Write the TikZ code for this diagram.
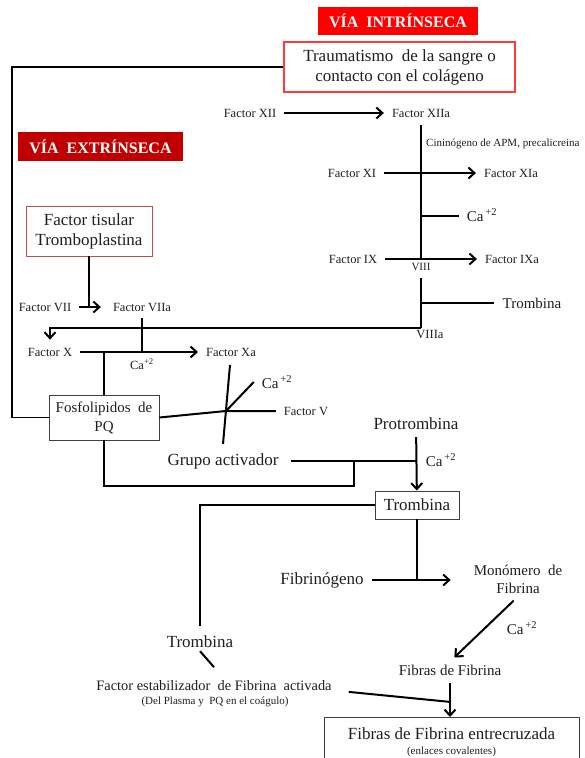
\documentclass[tikz,border=0pt]{standalone}
\usepackage{fontspec}
\setmainfont{Liberation Serif}
\usetikzlibrary{arrows.meta}

\definecolor{intrred}{HTML}{FF0000}
\definecolor{extrred}{HTML}{C00000}
\definecolor{traumared}{HTML}{FF3B3B}
\definecolor{tisred}{HTML}{C0504D}
\definecolor{boxgray}{HTML}{404040}
\definecolor{txtgray}{HTML}{1E1E1E}

\newcommand\fbig{\fontsize{17}{20}\selectfont}
\newcommand\fmid{\fontsize{15}{19}\selectfont}
\newcommand\fsml{\fontsize{12.5}{14}\selectfont}
\newcommand\ftny{\fontsize{11}{13}\selectfont}
\newcommand\fhead{\fontsize{16}{19}\selectfont}
\newcommand\caion{Ca\textsuperscript{\,+2}}

\tikzset{
  lbl/.style={inner xsep=8pt, inner ysep=3pt, text=txtgray, font=\fsml},
  box/.style={draw=boxgray, line width=0.9pt, align=center, text=txtgray, font=\fbig, inner sep=0pt},
  head/.style={fill=#1, text=white, font=\fhead\bfseries, inner sep=0pt},
  conn/.style={line width=2pt},
  arr/.style={conn, -{Straight Barb[length=6pt,width=11pt]}},
}

\begin{document}
\begin{tikzpicture}[x=1pt,y=-1pt]
    \useasboundingbox (0,0) rectangle (585,758);

    %Headers and starting boxes
    \node[head=intrred, minimum width=160pt, minimum height=28pt] (intr) at (398,21) {VÍA\ \ INTRÍNSECA};
    \node[box, draw=traumared, line width=1.2pt, minimum width=231pt, minimum height=50pt] (trauma) at (399.5,67) {Traumatismo\ \ de la sangre o\\contacto con el colágeno};
    \node[head=extrred, minimum width=165pt, minimum height=29pt] (extr) at (100.5,146.5) {VÍA\ \ EXTRÍNSECA};
    \node[box, draw=tisred, minimum width=126pt, minimum height=50pt] (tisular) at (89,231) {Factor tisular\\Tromboplastina};

    %Intrinsic pathway
    \node[lbl] (fxii) at (250,113) {Factor XII};
    \node[lbl] (fxiia) at (421,113) {Factor XIIa};
    \node[lbl, font=\ftny, anchor=west, inner xsep=0pt] (cinin) at (426,144) {Cininógeno de APM, precalicreina};
    \node[lbl] (fxi) at (352,173) {Factor XI};
    \node[lbl] (fxia) at (511,173) {Factor XIa};
    \node[lbl, font=\fmid] (caA) at (482,215) {\caion};
    \node[lbl] (fix) at (353,259) {Factor IX};
    \node[lbl] (fixa) at (512,259) {Factor IXa};
    \node[lbl, font=\ftny, inner sep=2pt] (viii) at (421,267) {VIII};
    \node[lbl, font=\fmid] (trombA) at (532,303) {Trombina};
    \node[lbl, inner sep=1pt] (viiia) at (430,334) {VIIIa};

    \coordinate (jCa) at (421,216);
    \coordinate (jIX) at (421,259);
    \coordinate (jTr) at (421,303);
    \coordinate (jX) at (421,328);

    \draw[arr] (fxii) -- (fxiia);
    \draw[arr] (fxi) -- (fxia);
    \draw[arr] (fix) -- (fixa);
    \draw[conn, shorten <=5pt] (fxiia) -- (jIX);
    \draw[conn] (jCa) -- (jCa -| caA.west);
    \draw[conn, shorten <=5pt] (viii) -- (jX);
    \draw[conn] (jTr) -- (jTr -| trombA.west);

    %Extrinsic pathway
    \node[lbl] (fvii) at (45,307) {Factor VII};
    \node[lbl] (fviia) at (142,307) {Factor VIIa};
    \node[lbl] (fx) at (50,352) {Factor X};
    \node[lbl] (fxa) at (231,352) {Factor Xa};
    \node[lbl, inner sep=1pt] (caB) at (142,364) {Ca\textsuperscript{+2}};

    \draw[conn] (tisular) -- (tisular |- fvii);
    \draw[arr, shorten >=4pt] (fvii) -- (fviia);
    \draw[conn, shorten <=4pt] (fviia) -- (fviia |- fx);
    \draw[arr] (fx) -- (fxa);
    \draw[arr, shorten >=5pt] (jX) -| (fx);

    %Fosfolipidos, group activator
    \node[box, font=\fmid, minimum width=110pt, minimum height=45pt] (fosfo) at (104,417.5) {Fosfolipidos\ \ de\\PQ};
    \coordinate (lft) at (12,67);
    \draw[line width=1.2pt] (trauma.west) -- (lft) |- (fosfo.west);
    \draw[conn] (fosfo.north) -- (fosfo.north |- fx);

    \node[lbl] (fv) at (306,411) {Factor V};
    \node[lbl, font=\fmid] (caC) at (277,382) {\caion};
    \coordinate (cx) at (226,411);
    \coordinate (xtop) at (230,365);
    \coordinate (xbot) at (223,444);
    \draw[conn] (fosfo.east) -- (cx) -- (fv);
    \draw[conn] (xtop) -- (xbot);
    \draw[conn] (cx) -- (caC.west);

    \node[lbl, font=\fbig, inner xsep=12pt] (grupo) at (223,461) {Grupo activador};
    \node[lbl, font=\fbig] (protr) at (416,424) {Protrombina};
    \node[lbl, font=\fmid] (caD) at (441,460) {\caion};
    \node[box, minimum width=84pt, minimum height=28pt] (trombbox) at (417,505) {Trombina};
    \coordinate (jgb) at (354,486);

    \draw[conn] (grupo) -- (grupo -| protr);
    \draw[arr, shorten <=4pt] (protr) -- (trombbox);
    \draw[conn] (fosfo.south) |- (jgb) -- (jgb |- grupo);

    %Fibrin
    \node[lbl, font=\fbig] (fibrinog) at (322,580) {Fibrinógeno};
    \node[lbl, font=\fmid, align=center] (mono) at (518,579) {Monómero\ \ de\\[-1pt]Fibrina};
    \node[lbl, font=\fmid] (caE) at (522,628) {\caion};
    \node[lbl, font=\fmid] (fibras) at (450,670) {Fibras de Fibrina};
    \node[lbl, font=\fbig] (trombL) at (200,642) {Trombina};
    \node[lbl, font=\fontsize{14.4}{17}\selectfont] (estab) at (214,686) {Factor estabilizador\ \ de Fibrina\ \ activada};
    \node[lbl, font=\ftny] (delpl) at (215,702) {(Del Plasma y\ \ PQ en el coágulo)};
    \node[box, minimum width=255pt, inner ysep=10pt, anchor=north] (final) at (451.5,717) {Fibras de Fibrina entrecruzada\\[-5pt]{\ftny (enlaces covalentes)}};
    \coordinate (jF) at (451,702);

    \draw[conn] (trombbox) -- (trombbox |- fibrinog);
    \draw[arr, shorten >=15pt] (fibrinog) -- (fibrinog -| mono.west);
    \draw[arr, shorten <=6pt, shorten >=6pt] (mono.south) -- (fibras.north);
    \draw[arr, shorten <=5pt] (fibras) -- (fibras |- final.north);
    \draw[conn, shorten <=9pt] ([yshift=-5pt]estab.east) -- (jF);
    \draw[conn, shorten >=7pt] (trombbox.west) -| (trombL);
    \draw[conn] (trombL.south) -- ++(14,16);

\end{tikzpicture}
\end{document}
